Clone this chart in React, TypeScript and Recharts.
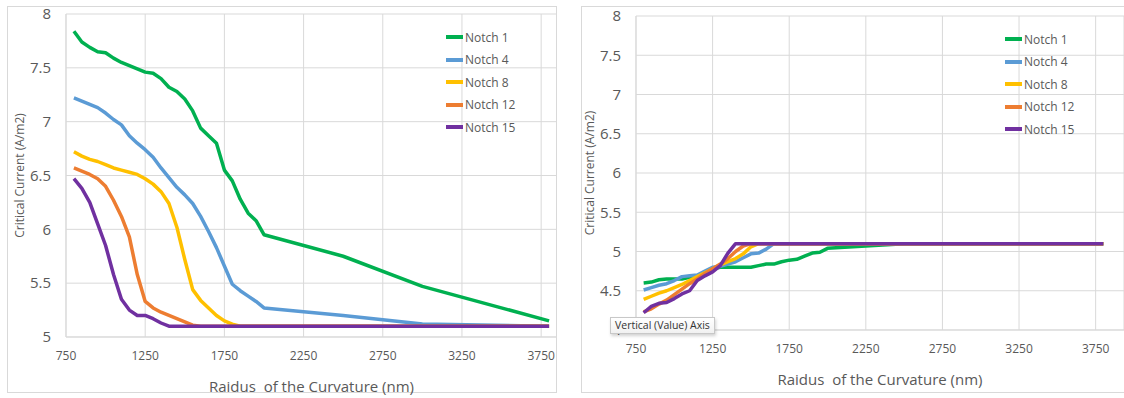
import React from 'react';
import {
  LineChart,
  Line,
  XAxis,
  YAxis,
  CartesianGrid,
  Legend,
} from 'recharts';

// Radius of curvature (nm) at which each notch was simulated
const radius = [
  800, 850, 900, 950, 1000, 1050, 1100, 1150, 1200, 1250, 1300, 1350, 1400, 1450,
  1500, 1550, 1600, 1650, 1700, 1750, 1800, 1850, 1900, 1950, 2000, 2500, 3000, 3800,
];

const seriesKeys = ['notch1', 'notch4', 'notch8', 'notch12', 'notch15'];
const seriesNames = ['Notch 1', 'Notch 4', 'Notch 8', 'Notch 12', 'Notch 15'];
const seriesColors = ['#00B050', '#5B9BD5', '#FFC000', '#ED7D31', '#7030A0'];

// Left panel: critical current falling with radius
const leftNotch1 = [
  7.84, 7.74, 7.69, 7.65, 7.64, 7.59, 7.55, 7.52, 7.49, 7.46, 7.45, 7.4, 7.32, 7.28,
  7.21, 7.1, 6.94, 6.87, 6.8, 6.55, 6.45, 6.28, 6.15, 6.08, 5.95, 5.75, 5.47, 5.15,
];
const leftNotch4 = [
  7.22, 7.19, 7.16, 7.13, 7.08, 7.02, 6.97, 6.87, 6.8, 6.74, 6.67, 6.57, 6.48, 6.39,
  6.32, 6.24, 6.12, 5.98, 5.83, 5.66, 5.49, 5.43, 5.38, 5.33, 5.27, 5.2, 5.12, 5.1,
];
const leftNotch8 = [
  6.72, 6.68, 6.65, 6.63, 6.6, 6.57, 6.55, 6.53, 6.51, 6.47, 6.42, 6.35, 6.24, 6.02,
  5.72, 5.44, 5.34, 5.27, 5.2, 5.15, 5.12, 5.1, 5.1, 5.1, 5.1, 5.1, 5.1, 5.1,
];
const leftNotch12 = [
  6.57, 6.54, 6.51, 6.47, 6.4, 6.27, 6.12, 5.93, 5.58, 5.33, 5.27, 5.23, 5.2, 5.17,
  5.14, 5.11, 5.1, 5.1, 5.1, 5.1, 5.1, 5.1, 5.1, 5.1, 5.1, 5.1, 5.1, 5.1,
];
const leftNotch15 = [
  6.47, 6.38, 6.25, 6.05, 5.85, 5.58, 5.35, 5.25, 5.2, 5.2, 5.17, 5.13, 5.1, 5.1,
  5.1, 5.1, 5.1, 5.1, 5.1, 5.1, 5.1, 5.1, 5.1, 5.1, 5.1, 5.1, 5.1, 5.1,
];

// Right panel: critical current rising to the 5.1 plateau
const rightNotch1 = [
  4.6, 4.61, 4.64, 4.65, 4.65, 4.65, 4.67, 4.69, 4.73, 4.78, 4.8, 4.8, 4.8, 4.8,
  4.8, 4.82, 4.84, 4.84, 4.87, 4.89, 4.9, 4.94, 4.98, 4.99, 5.04, 5.1, 5.1, 5.1,
];
const rightNotch4 = [
  4.51, 4.54, 4.57, 4.59, 4.63, 4.68, 4.69, 4.7, 4.75, 4.8, 4.81, 4.84, 4.87, 4.92,
  4.97, 4.98, 5.03, 5.1, 5.1, 5.1, 5.1, 5.1, 5.1, 5.1, 5.1, 5.1, 5.1, 5.1,
];
const rightNotch8 = [
  4.39, 4.43, 4.47, 4.5, 4.54, 4.58, 4.63, 4.68, 4.73, 4.78, 4.83, 4.87, 4.91, 4.97,
  5.06, 5.1, 5.1, 5.1, 5.1, 5.1, 5.1, 5.1, 5.1, 5.1, 5.1, 5.1, 5.1, 5.1,
];
const rightNotch12 = [
  4.23, 4.27, 4.33, 4.38, 4.45, 4.52, 4.59, 4.65, 4.72, 4.78, 4.84, 4.91, 5.0, 5.07,
  5.1, 5.1, 5.1, 5.1, 5.1, 5.1, 5.1, 5.1, 5.1, 5.1, 5.1, 5.1, 5.1, 5.1,
];
const rightNotch15 = [
  4.22, 4.3, 4.34, 4.35, 4.4, 4.46, 4.5, 4.63, 4.69, 4.74, 4.82, 4.98, 5.1, 5.1,
  5.1, 5.1, 5.1, 5.1, 5.1, 5.1, 5.1, 5.1, 5.1, 5.1, 5.1, 5.1, 5.1, 5.1,
];

const xTicks = [750, 1250, 1750, 2250, 2750, 3250, 3750];
const leftYTicks = [5, 5.5, 6, 6.5, 7, 7.5, 8];
const rightYTicks = [4, 4.5, 5, 5.5, 6, 6.5, 7, 7.5, 8];

// non-breaking space keeps the double gap after "Raidus"
const xTitle = 'Raidus\u00A0 of the Curvature (nm)';
const yTitle = 'Critical Current (A/m2)';

const TEXT = '#595959';
const GRID = '#d9d9d9';
const FONT = "'Open Sans', sans-serif";

function buildRows(series: number[][]) {
  return radius.map((r, i) => {
    const row: Record<string, number> = { radius: r };
    seriesKeys.forEach((k, s) => {
      row[k] = series[s][i];
    });
    return row;
  });
}

const leftRows = buildRows([leftNotch1, leftNotch4, leftNotch8, leftNotch12, leftNotch15]);
const rightRows = buildRows([rightNotch1, rightNotch4, rightNotch8, rightNotch12, rightNotch15]);

const renderLegend = (props: any) => {
  const payload = [...(props.payload || [])].sort(
    (a: any, b: any) => seriesNames.indexOf(a.value) - seriesNames.indexOf(b.value)
  );
  return (
    <div style={{ display: 'flex', flexDirection: 'column', fontFamily: FONT }}>
      {payload.map((item: any) => (
        <div
          key={item.value}
          style={{ height: 22.5, display: 'flex', alignItems: 'center', whiteSpace: 'nowrap' }}
        >
          <span
            style={{ display: 'inline-block', width: 17, height: 4, background: item.color, marginRight: 2 }}
          />
          <span style={{ fontSize: 12, color: TEXT }}>{item.value}</span>
        </div>
      ))}
    </div>
  );
};

type PanelProps = {
  rows: Record<string, number>[];
  width: number;
  height: number;
  top: number;
  yAxisWidth: number;
  xAxisHeight: number;
  xDomain: [number, number];
  yDomain: [number, number];
  yTicks: number[];
  yTitleOffset: number;
  xTitleOffset: number;
  legendLeft: number;
  legendTop: number;
};

function NotchPanel(p: PanelProps) {
  return (
    <LineChart
      width={p.width}
      height={p.height}
      data={p.rows}
      margin={{ top: p.top, right: 0, left: 0, bottom: 0 }}
      style={{ fontFamily: FONT }}
    >
      <CartesianGrid stroke={GRID} strokeWidth={1} />
      <XAxis
        dataKey="radius"
        type="number"
        domain={p.xDomain}
        ticks={xTicks}
        allowDataOverflow
        height={p.xAxisHeight}
        axisLine={{ stroke: GRID }}
        tickLine={false}
        tickMargin={8}
        tick={{ fill: TEXT, fontSize: 12 }}
        label={{
          value: xTitle,
          position: 'insideBottom',
          offset: p.xTitleOffset,
          style: { fill: TEXT, fontSize: 15 },
        }}
      />
      <YAxis
        type="number"
        domain={p.yDomain}
        ticks={p.yTicks}
        width={p.yAxisWidth}
        axisLine={{ stroke: GRID }}
        tickLine={false}
        tickMargin={9}
        tick={{ fill: TEXT, fontSize: 15 }}
        label={{
          value: yTitle,
          angle: -90,
          position: 'insideLeft',
          offset: p.yTitleOffset,
          style: { fill: TEXT, fontSize: 12, textAnchor: 'middle' },
        }}
      />
      <Legend
        layout="vertical"
        align="center"
        verticalAlign="middle"
        content={renderLegend}
        wrapperStyle={{ position: 'absolute', left: p.legendLeft, top: p.legendTop, width: 110 }}
      />
      {seriesKeys.map((k, i) => (
        <Line
          key={k}
          dataKey={k}
          name={seriesNames[i]}
          type="linear"
          stroke={seriesColors[i]}
          strokeWidth={3.5}
          strokeLinejoin="round"
          dot={false}
          activeDot={false}
          isAnimationActive={false}
        />
      ))}
    </LineChart>
  );
}

export default function App() {
  return (
    <div
      style={{
        position: 'absolute',
        left: 0,
        top: 0,
        width: 1124,
        height: 398,
        background: '#fff',
        overflow: 'hidden',
        fontFamily: FONT,
      }}
    >
      {/* chart-area frames */}
      <div
        style={{
          position: 'absolute',
          left: 7,
          top: 6,
          width: 550,
          height: 387,
          border: `1px solid ${GRID}`,
          boxSizing: 'border-box',
        }}
      />
      <div
        style={{
          position: 'absolute',
          left: 581,
          top: 6,
          width: 560,
          height: 387,
          border: `1px solid ${GRID}`,
          boxSizing: 'border-box',
        }}
      />

      <div style={{ position: 'absolute', left: 0, top: 0 }}>
        <NotchPanel
          rows={leftRows}
          width={557}
          height={398}
          top={14}
          yAxisWidth={66}
          xAxisHeight={61}
          xDomain={[750, 3850]}
          yDomain={[5, 8]}
          yTicks={leftYTicks}
          yTitleOffset={20}
          xTitleOffset={6}
          legendLeft={446}
          legendTop={26}
        />
      </div>

      <div style={{ position: 'absolute', left: 560, top: 0 }}>
        <NotchPanel
          rows={rightRows}
          width={564}
          height={398}
          top={16}
          yAxisWidth={76}
          xAxisHeight={68}
          xDomain={[750, 3935]}
          yDomain={[4, 8]}
          yTicks={rightYTicks}
          yTitleOffset={30}
          xTitleOffset={13}
          legendLeft={445}
          legendTop={28}
        />
      </div>

      {/* hover hint over the value axis */}
      <div
        style={{
          position: 'absolute',
          left: 610,
          top: 317,
          height: 15,
          padding: '0 4px',
          lineHeight: '15px',
          fontSize: 10.5,
          color: '#333',
          background: 'linear-gradient(#ffffff, #f1f1f1)',
          border: '1px solid #c8c8c8',
          boxShadow: '1px 2px 3px rgba(0,0,0,0.18)',
          whiteSpace: 'nowrap',
          fontFamily: FONT,
        }}
      >
        Vertical (Value) Axis
      </div>
    </div>
  );
}
